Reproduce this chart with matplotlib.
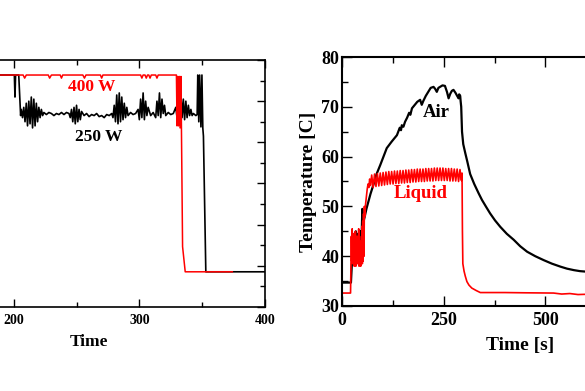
import numpy as np
import matplotlib.pyplot as plt
from matplotlib.ticker import MultipleLocator, FixedLocator

plt.rcParams["font.family"] = ["Liberation Serif", "DejaVu Serif"]
plt.rcParams["font.weight"] = "bold"

# ----- left panel: 250 W / 400 W traces -----------------------------------
w400_t = [120, 207.5, 208.7, 210, 227.5, 228.6, 230, 237, 238, 239,
          255, 256.3, 257.5, 269, 270, 271, 301, 302, 303, 304.5, 305.5,
          306.5, 307.5, 308.5, 309.5, 313, 314, 315, 328.5, 329.5, 330,
          330.6, 331.2, 331.8, 332.4, 333.1, 334.4, 336.5, 374]
w400_y = [1.127, 1.127, 1.112, 1.127, 1.127, 1.112, 1.127, 1.127, 1.112, 1.127,
          1.127, 1.112, 1.127, 1.127, 1.112, 1.127, 1.127, 1.112, 1.127, 1.127, 1.112,
          1.127, 1.127, 1.112, 1.127, 1.127, 1.112, 1.127, 1.127, 1.127, 0.88,
          1.12, 0.88, 1.12, 0.87, 1.12, 0.293, 0.171, 0.171]

w250_t = [120, 200.5, 201, 201.5, 204, 205.5,
          206, 207, 208, 209, 210, 211, 212, 213, 214, 215, 216, 217, 218, 219, 220, 221, 222, 223,
          224, 226, 228, 230, 232, 234, 236, 238, 240, 242, 244,
          245, 246, 247, 248, 249, 250, 251, 252, 253, 254,
          256, 258, 260, 262, 264, 266, 268, 270, 272, 274, 276, 278,
          279, 280, 281, 282, 283, 284, 285, 286, 287, 288, 289, 290, 291,
          293, 295, 297,
          299, 300, 301, 302, 303, 304, 305, 306, 307,
          309, 311,
          313, 314, 315, 316, 317, 318, 319, 320, 321,
          323, 325, 327,
          329, 330, 331, 332, 333, 334, 335, 336, 337, 338, 339, 340, 341, 342,
          343, 345, 346, 346.5, 347.3, 348, 349, 349.8, 350.5, 351, 352.9, 400]
w250_y = [1.127, 1.127, 1.02, 1.127, 1.127, 0.93,
          0.96, 0.92, 0.97, 0.90, 0.99, 0.88, 1.00, 0.89, 1.02, 0.87, 1.01, 0.88, 0.99, 0.90, 0.97, 0.92, 0.96, 0.93,
          0.945, 0.935, 0.945, 0.94, 0.93, 0.94, 0.935, 0.945, 0.935, 0.945, 0.94,
          0.92, 0.96, 0.90, 0.97, 0.89, 0.98, 0.90, 0.96, 0.91, 0.95,
          0.93, 0.94, 0.925, 0.935, 0.93, 0.94, 0.925, 0.93, 0.92, 0.935, 0.93, 0.94,
          0.92, 0.98, 0.90, 1.03, 0.89, 1.04, 0.90, 1.02, 0.91, 0.99, 0.92, 0.97, 0.93,
          0.945, 0.935, 0.94,
          0.96, 0.91, 1.01, 0.92, 1.04, 0.91, 1.00, 0.93, 0.97,
          0.93, 0.945,
          0.92, 1.00, 0.93, 1.04, 0.92, 1.01, 0.94, 0.98, 0.93,
          0.945, 0.935, 0.94,
          0.97, 0.92, 1.03, 0.91, 1.04, 0.92, 1.01, 0.91, 1.00, 0.92, 0.98, 0.93, 0.96, 0.93,
          0.94, 0.93, 0.935, 1.127, 0.90, 1.127, 0.875, 1.127, 0.87, 0.83, 0.171, 0.171]

# ----- right panel: air / liquid temperature ------------------------------
air_t = [0, 22, 24, 28, 30, 32, 34, 36, 38, 40, 42, 44, 46, 48, 50, 51, 53, 56,
         60, 65, 70, 77, 85, 94, 102, 110, 122, 135, 142, 145, 147, 151, 155,
         160, 165, 168, 172, 180, 185, 192, 196, 200, 206, 212, 218, 225, 229,
         233, 237, 241, 247, 253, 258, 262, 266, 270, 274, 279, 283, 286.5, 288,
         290.5, 291.5, 293, 295, 298, 303, 308, 315, 325, 336, 344, 355, 364,
         376, 389, 405, 422, 438, 455, 475, 496, 516, 537, 553, 570, 585, 600, 620]
air_T = [34.7, 34.7, 38, 42, 44.5, 43, 45, 42, 44.5, 41.5, 44, 42, 45, 43.5, 49.5, 44, 47, 48,
         49.5, 51, 52.5, 54.3, 56.5, 58.3, 60, 61.7, 63, 64.3, 65.8, 65.3, 66.3, 66, 67,
         67.8, 68.8, 68.4, 69.7, 70.5, 71, 71.4, 70.4, 71.2, 72.2, 73, 73.8, 74, 73.6,
         73, 73.8, 74, 74.3, 74.2, 73, 71.7, 72.6, 73.2, 73.4, 72.8, 72.2, 71.7, 72.5,
         72.2, 71.2, 70, 65, 62.5, 60.7, 59, 56.5, 54.5, 52.6, 51.3, 49.8, 48.6,
         47.2, 45.9, 44.5, 43.3, 42, 40.9, 40, 39.2, 38.5, 37.9, 37.5, 37.2, 37, 36.9, 36.8]

liq_t = [0, 21, 22, 23, 24, 25, 26, 27, 28, 29, 30, 31, 32, 33, 34, 35, 36, 37, 38,
         39, 40, 41, 42, 43, 44, 45, 46, 47, 48, 49, 50, 51, 52, 53, 54, 55, 56,
         58, 60, 62, 64, 66, 68, 70,
         73, 76.5, 80, 83.5, 87, 90.5, 94, 97.5, 101, 104.5, 108, 111.5, 115,
         118.5, 122, 125.5, 129, 132.5, 136, 139.5, 143, 146.5, 150, 153.5, 157,
         160.5, 164, 167.5, 171, 174.5, 178, 181.5, 185, 188.5, 192, 195.5, 199,
         202.5, 206, 209.5, 213, 216.5, 220, 223.5, 227, 230.5, 234, 237.5, 241,
         244.5, 248, 251.5, 255, 258.5, 262, 265.5, 269, 272.5, 276, 279.5, 283,
         286.5, 290, 293.5, 295, 296, 297, 300, 303, 307, 312, 319, 330, 340,
         400, 450, 520, 540, 560, 580, 600, 620]
liq_T = [32.6, 32.6, 38, 44, 39, 45.5, 38.5, 43, 40, 44.5, 38, 42.5, 39.5, 45, 38, 43.5, 40, 44, 38.5,
         42, 40.5, 45.5, 38, 44, 39.5, 42.5, 38, 43, 39, 46, 38.5, 47, 39, 48.5, 40, 50, 48,
         50.5, 52, 53.5, 54.5, 53.8, 55.5, 54.2,
         56.3, 53.8, 56.5, 54.0, 56.6, 54.1, 56.7, 54.2, 56.8, 54.3, 56.9, 54.4, 57.0,
         54.5, 57.0, 54.5, 57.1, 54.6, 57.1, 54.6, 57.2, 54.7, 57.2, 54.7, 57.3,
         54.8, 57.3, 54.8, 57.4, 54.9, 57.4, 54.9, 57.5, 55.0, 57.5, 55.0, 57.5,
         55.0, 57.6, 55.1, 57.6, 55.1, 57.6, 55.1, 57.7, 55.2, 57.7, 55.2, 57.7,
         55.2, 57.7, 55.2, 57.6, 55.2, 57.6, 55.1, 57.6, 55.1, 57.5, 55.1, 57.5,
         55.0, 57.4, 55.2, 56.7, 45, 38.5, 37, 36, 34.9, 34.2, 33.6, 33.1, 32.7,
         32.7, 32.65, 32.6, 32.4, 32.5, 32.3, 32.35, 32.3]

right_xticks = [0, 250, 500, 750]
right_xticklabels = ["0", "250", "500", ""]

W, H = 585, 391
fig = plt.figure(figsize=(W / 100, H / 100), dpi=100)

TICK_KW = dict(direction="in", top=True, right=True, width=1.0, colors="black")

# left panel (its left edge is outside the picture)
ax1 = fig.add_axes([-86.8 / W, (H - 307) / H, 351.8 / W, 247 / H])
ax1.plot(w250_t, w250_y, color="black", lw=1.2)
ax1.plot(w400_t, w400_y, color="red", lw=1.1)
ax1.set_xlim(120, 400)
ax1.set_ylim(0, 1.2)
ax1.xaxis.set_major_locator(MultipleLocator(100))
ax1.xaxis.set_minor_locator(MultipleLocator(50))
ax1.yaxis.set_major_locator(MultipleLocator(0.2))
ax1.yaxis.set_minor_locator(MultipleLocator(0.1))
ax1.tick_params(which="major", length=6, labelsize=10, pad=5, **TICK_KW)
ax1.tick_params(which="minor", length=3.5, **TICK_KW)
ax1.set_yticklabels([])
ax1.set_xlabel("Time", fontsize=12.5, fontweight="bold", labelpad=5)
ax1.text(262, 1.071, "400 W", color="red", fontsize=12.5, fontweight="bold",
         ha="center", va="center")
ax1.text(267.5, 0.828, "250 W", color="black", fontsize=12.5, fontweight="bold",
         ha="center", va="center")
for s in ax1.spines.values():
    s.set_linewidth(1.2)

# right panel (its right edge is outside the picture)
ax2 = fig.add_axes([342 / W, (H - 306) / H, 356 / W, 249 / H])
ax2.plot(air_t, air_T, color="black", lw=1.6)
ax2.plot(liq_t, liq_T, color="red", lw=1.2)
ax2.set_xlim(0, 875)
ax2.set_ylim(30, 80)
ax2.xaxis.set_major_locator(FixedLocator(right_xticks))
ax2.set_xticklabels(right_xticklabels)
ax2.xaxis.set_minor_locator(MultipleLocator(125))
ax2.yaxis.set_major_locator(MultipleLocator(10))
ax2.yaxis.set_minor_locator(MultipleLocator(5))
ax2.tick_params(which="major", length=7, labelsize=13, pad=4, **TICK_KW)
ax2.tick_params(which="minor", length=4, **TICK_KW)
ax2.tick_params(axis="y", which="major", pad=2)
ax2.set_xlabel("Time [s]", fontsize=14, fontweight="bold", labelpad=6)
ax2.set_ylabel("Temperature [C]", fontsize=14, fontweight="bold", labelpad=3)
ax2.text(231.5, 68.8, "Air", color="black", fontsize=13.5, fontweight="bold",
         ha="center", va="center")
ax2.text(193, 52.5, "Liquid", color="red", fontsize=13.5, fontweight="bold",
         ha="center", va="center")
for s in ax2.spines.values():
    s.set_linewidth(1.5)

fig.savefig("out.png", dpi=100)
